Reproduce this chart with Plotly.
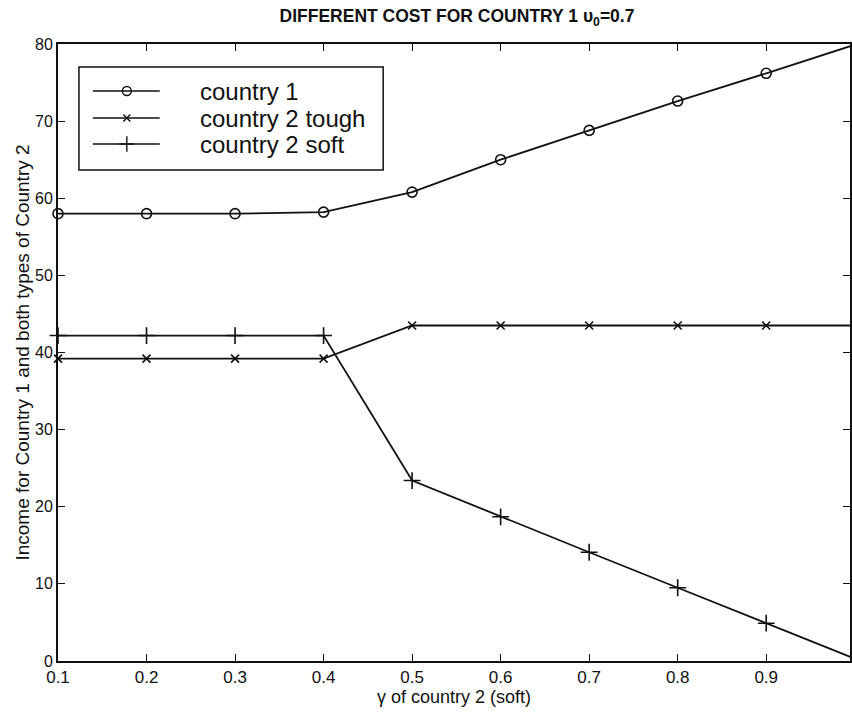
import plotly.graph_objects as go

# gamma of country 2 (soft)
gamma = [0.1, 0.2, 0.3, 0.4, 0.5, 0.6, 0.7, 0.8, 0.9, 1.0]

# incomes
country1 = [58.0, 58.0, 58.0, 58.2, 60.8, 65.0, 68.8, 72.6, 76.2, 79.9]
country2_tough = [39.2, 39.2, 39.2, 39.2, 43.5, 43.5, 43.5, 43.5, 43.5, 43.5]
country2_soft = [42.2, 42.2, 42.2, 42.2, 23.4, 18.7, 14.1, 9.5, 4.9, 0.3]

series_names = ["country 1", "country 2 tough", "country 2 soft"]

x_ticks = [0.1, 0.2, 0.3, 0.4, 0.5, 0.6, 0.7, 0.8, 0.9]
x_ticklabels = ["0.1", "0.2", "0.3", "0.4", "0.5", "0.6", "0.7", "0.8", "0.9"]
y_ticks = [0, 10, 20, 30, 40, 50, 60, 70, 80]

FONT = "Liberation Sans, Arial, Helvetica, sans-serif"
INK = "#111111"

W, H = 852, 715
L, T, B = 58, 44, 54
plot_w = W - L
plot_h = H - T - B
px_per_unit = 887.5  # pixels per 1.0 of gamma
x_hi = 0.1 + plot_w / px_per_unit

symbols = [
    dict(symbol="circle-open", size=10),
    dict(symbol="x-thin-open", size=8),
    dict(symbol="cross-thin-open", size=12),
]

fig = go.Figure()

for name, ys, sym in zip(series_names, [country1, country2_tough, country2_soft], symbols):
    fig.add_trace(go.Scatter(
        x=gamma, y=ys, name=name, mode="lines+markers",
        line=dict(color=INK, width=1.8),
        marker=dict(symbol=sym["symbol"], size=sym["size"], color=INK,
                    line=dict(width=1.6, color=INK)),
        cliponaxis=False, showlegend=False,
    ))

# Boxed key in the upper-left corner, laid out in pixel units on a hidden overlay axis
key_left, key_top, key_right, key_bottom = 79, 67, 384, 170
key_rows = [91, 118, 144]
sample_x0, sample_x1, sample_mid, text_x = 93, 160, 127, 198

for name, sym, ry in zip(series_names, symbols, key_rows):
    fig.add_trace(go.Scatter(
        x=[sample_x0, sample_x1], y=[ry, ry], mode="lines",
        line=dict(color=INK, width=1.4), xaxis="x2", yaxis="y2",
        showlegend=False, hoverinfo="skip",
    ))
    fig.add_trace(go.Scatter(
        x=[sample_mid], y=[ry], mode="markers",
        marker=dict(symbol=sym["symbol"], size=sym["size"] - 1, color=INK,
                    line=dict(width=1.4, color=INK)),
        xaxis="x2", yaxis="y2", showlegend=False, hoverinfo="skip",
    ))
    fig.add_annotation(
        x=text_x, y=ry, xref="x2", yref="y2", text=name, showarrow=False,
        xanchor="left", yanchor="middle",
        font=dict(size=24, family=FONT, color=INK),
    )

fig.add_shape(
    type="rect", xref="x2", yref="y2",
    x0=key_left, x1=key_right, y0=key_top, y1=key_bottom,
    line=dict(color=INK, width=1.5), fillcolor="rgba(0,0,0,0)", layer="above",
)

fig.update_layout(
    width=W, height=H,
    margin=dict(l=L, r=0, t=T, b=B),
    paper_bgcolor="white", plot_bgcolor="white",
    font=dict(family=FONT, color=INK),
    title=dict(
        text="<b>DIFFERENT COST FOR COUNTRY 1 υ<sub>0</sub>=0.7</b>",
        x=457 / W, xanchor="center", y=1 - 16 / H, yanchor="middle",
        font=dict(size=17.5, family=FONT, color=INK),
    ),
    showlegend=False,
    xaxis=dict(
        range=[0.1, x_hi], tickvals=x_ticks, ticktext=x_ticklabels,
        ticks="inside", ticklen=7, tickwidth=1.2, tickcolor=INK,
        showline=True, linewidth=2, linecolor=INK, mirror="ticks",
        showgrid=False, zeroline=False,
        tickfont=dict(size=17, family=FONT),
        title=dict(text="γ of country 2 (soft)", font=dict(size=18, family=FONT), standoff=2),
    ),
    yaxis=dict(
        range=[0, 80], tickvals=y_ticks,
        ticks="inside", ticklen=7, tickwidth=1.2, tickcolor=INK,
        showline=True, linewidth=2, linecolor=INK, mirror="ticks",
        showgrid=False, zeroline=False,
        tickfont=dict(size=16, family=FONT),
        title=dict(text="Income for Country 1 and both types of Country 2",
                   font=dict(size=19, family=FONT), standoff=0),
    ),
    xaxis2=dict(range=[L, W], overlaying="x", visible=False, fixedrange=True),
    yaxis2=dict(range=[H - B, T], overlaying="y", visible=False, fixedrange=True),
)

fig.write_html("out.html")
